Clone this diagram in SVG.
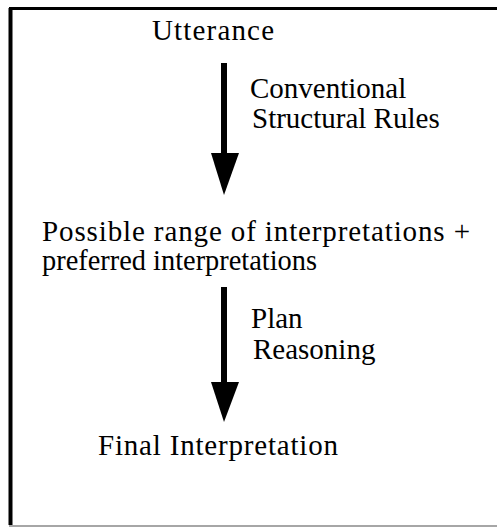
<svg xmlns="http://www.w3.org/2000/svg" width="497" height="527" viewBox="0 0 497 527">
<style>
  text { font-family: "Liberation Serif", "Times New Roman", serif; font-size: 29px; fill: #000; }
  .frame { fill: none; stroke: #000; }
  .shaft { fill: #000; }
</style>
<rect width="497" height="527" fill="#fff"/>
<g id="frame">
  <line class="frame" x1="10.5" y1="8" x2="10.5" y2="525" stroke-width="4"/>
  <line class="frame" x1="9" y1="8.5" x2="497" y2="8.5" stroke-width="3"/>
  <line x1="9" y1="526" x2="497" y2="526" stroke="#888" stroke-width="1.5"/>
</g>
<g id="n-utterance">
  <text x="152" y="40" textLength="122" lengthAdjust="spacing">Utterance</text>
</g>
<g id="n-possible">
  <text x="42" y="241" textLength="428" lengthAdjust="spacing">Possible range of interpretations +</text>
  <text x="42" y="270" textLength="275" lengthAdjust="spacingAndGlyphs">preferred interpretations</text>
</g>
<g id="n-final">
  <text x="98" y="455" textLength="240" lengthAdjust="spacing">Final Interpretation</text>
</g>
<g id="connectors">
  <g id="e1">
    <rect class="shaft" x="221" y="63" width="6" height="92"/>
    <polygon class="shaft" points="211,153 239,153 224,195"/>
    <text x="250" y="98">Conventional</text>
    <text x="252" y="128">Structural Rules</text>
  </g>
  <g id="e2">
    <rect class="shaft" x="221" y="287" width="6" height="97"/>
    <polygon class="shaft" points="211,382 239,382 224,422"/>
    <text x="251" y="328">Plan</text>
    <text x="253" y="359">Reasoning</text>
  </g>
</g>
</svg>
